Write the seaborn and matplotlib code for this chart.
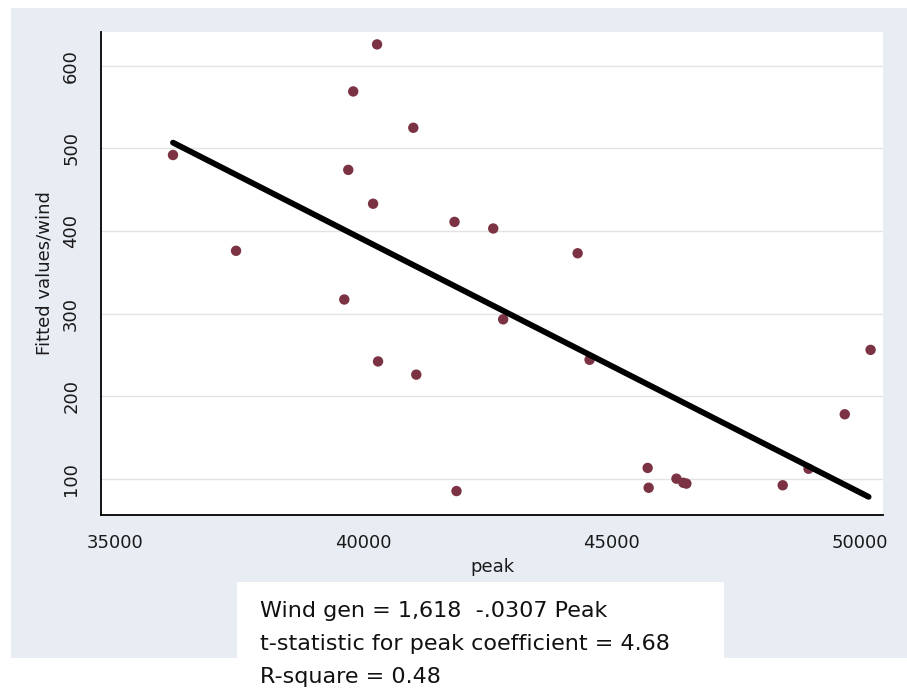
import seaborn as sns
import matplotlib.pyplot as plt
import pandas as pd
from matplotlib.patches import Rectangle

peak = [36170, 37440, 39620, 39700, 39800, 40200, 40280, 40300, 41010, 41070,
        41840, 41880, 42620, 42820, 44320, 44560, 45730, 45750, 46310, 46450,
        46510, 48450, 48970, 49700, 50220]
wind = [492, 376, 317, 474, 569, 433, 626, 242, 525, 226,
        411, 85, 403, 293, 373, 244, 113, 89, 100, 95,
        94, 92, 112, 178, 256]

# Fitted regression line end points
fit_peak = [36170, 50180]
fit_wind = [507, 78]

x_ticks = [35000, 40000, 45000, 50000]
y_ticks = [100, 200, 300, 400, 500, 600]

notes = ["Wind gen = 1,618  -.0307 Peak",
         "t-statistic for peak coefficient = 4.68",
         "R-square = 0.48"]

obs = pd.DataFrame({'peak': peak, 'wind': wind})
fit = pd.DataFrame({'peak': fit_peak, 'wind': fit_wind})

sns.set_style('white')
plt.rcParams['font.family'] = ['DejaVu Sans']

W, H = 907, 689
fig = plt.figure(figsize=(W / 100, H / 100), dpi=100)
fig.patch.set_facecolor('white')

# light blue-grey graph region and white note box
fig.patches.append(Rectangle((11 / W, 1 - 658 / H), (W - 11) / W, (658 - 8) / H,
                             transform=fig.transFigure, facecolor='#E8EDF4',
                             edgecolor='none', zorder=-10))
fig.patches.append(Rectangle((237 / W, 0), (724 - 237) / W, 1 - 582 / H,
                             transform=fig.transFigure, facecolor='white',
                             edgecolor='none', zorder=-5))

ax = fig.add_axes([101 / W, 1 - 515 / H, (883 - 101) / W, (515 - 32) / H])
ax.set_facecolor('white')

sns.scatterplot(data=obs, x='peak', y='wind', ax=ax, color='#7B3343',
                s=56, edgecolor='none', zorder=3)
sns.lineplot(data=fit, x='peak', y='wind', ax=ax, color='black',
             linewidth=4.2, sort=False, zorder=4)

ax.set_xlim(34720, 50470)
ax.set_ylim(56, 641)
ax.set_xticks(x_ticks)
ax.set_yticks(y_ticks)
ax.yaxis.grid(True, color='#E3E3E3', linewidth=1)
ax.xaxis.grid(False)
ax.set_axisbelow(True)

for side in ['top', 'right']:
    ax.spines[side].set_visible(False)
for side in ['left', 'bottom']:
    ax.spines[side].set_color('black')
    ax.spines[side].set_linewidth(1.3)

ax.tick_params(axis='both', direction='out', length=6, width=1.2,
               color='black', labelsize=13, labelcolor='#1a1a1a')
ax.tick_params(axis='x', pad=8)
ax.tick_params(axis='y', pad=9)
for lab in ax.get_yticklabels():
    lab.set_rotation(90)
    lab.set_va('center')

ax.set_xlabel('peak', fontsize=13, color='#1a1a1a', labelpad=4)
ax.set_ylabel('Fitted values/wind', fontsize=13, color='#1a1a1a', labelpad=6)

for i, line in enumerate(notes):
    fig.text(260 / W, 1 - (611 + 33 * i) / H, line, fontsize=16,
             color='#111111', va='center', ha='left')

fig.savefig('out.png', dpi=100)
